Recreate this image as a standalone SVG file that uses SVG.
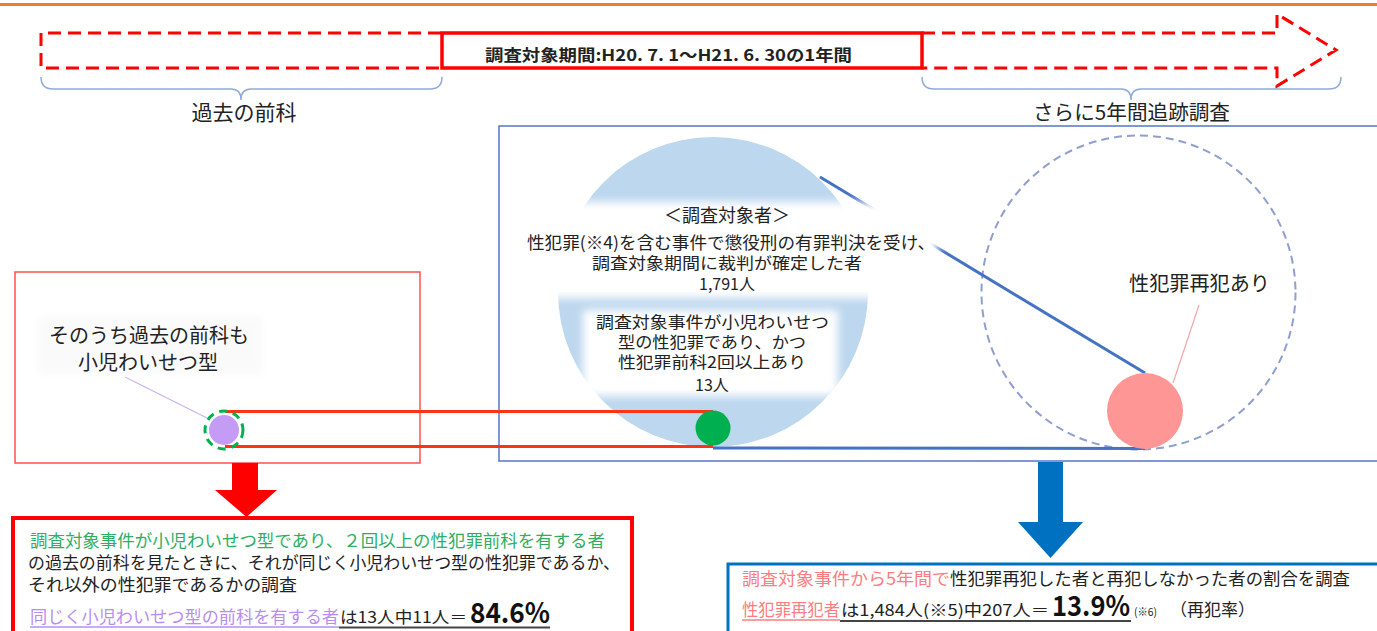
<svg xmlns="http://www.w3.org/2000/svg" width="1377" height="631" viewBox="0 0 1377 631">
<style>
text{font-family:"Noto Sans CJK JP","Noto Sans CJK SC",sans-serif;fill:#222}
.dash{fill:none;stroke:#FF0000;stroke-width:3;stroke-dasharray:13 7}
.brace{fill:none;stroke:#8FAADC;stroke-width:1.5}
.conn{fill:none;stroke-width:3}
.red{stroke:#FA3414}
.blue{stroke:#4472C4}
.t18{font-size:18px}
.t17{font-size:17px}
.t16{font-size:16px}
.t20{font-size:20px}
.big{font-size:28px;font-weight:700}
</style>
<defs>
<filter id="soft" x="-20%" y="-30%" width="140%" height="160%"><feGaussianBlur stdDeviation="4"/></filter>
</defs>
<rect width="1377" height="631" fill="#fff"/>
<line x1="0" y1="4.5" x2="1377" y2="4.5" stroke="#ED7D31" stroke-width="3"/>

<g id="timeline">
<path class="dash" d="M441 33 H41 V68 H441"/>
<path class="dash" d="M922 33 H1277 V14 L1336 50 L1277 86 V68 H922"/>
<rect x="442" y="33" width="480" height="35" fill="#fff" stroke="#FF0000" stroke-width="3.5"/>
<text x="485" y="61" font-size="16" font-weight="700" textLength="367" lengthAdjust="spacingAndGlyphs">調査対象期間:H20. 7. 1～H21. 6. 30の1年間</text>
</g>

<g id="brace-past">
<path class="brace" d="M41 77 Q41 89 53 89 H231 Q241 89 241 100 Q241 89 251 89 H430 Q442 89 442 77"/>
<text x="244" y="120" font-size="21" text-anchor="middle">過去の前科</text>
</g>
<g id="brace-future">
<path class="brace" d="M922 77 Q922 89 934 89 H1121 Q1131 89 1131 100 Q1131 89 1141 89 H1329 Q1341 89 1341 77"/>
<text x="1033" y="120" class="t20" textLength="197" lengthAdjust="spacingAndGlyphs">さらに5年間追跡調査</text>
</g>

<g id="frame-blue">
<rect x="499" y="126" width="900" height="335" fill="none" stroke="#5577C8" stroke-width="1.5"/>
</g>
<g id="frame-red">
<rect x="15" y="272" width="405" height="191" fill="none" stroke="#FF5050" stroke-width="1.5"/>
</g>

<g id="subjects">
<circle cx="713" cy="292" r="155" fill="#BDD7EE"/>
</g>

<g id="recid-circle">
<circle cx="1138.5" cy="292.5" r="157" fill="none" stroke="#8E9FD0" stroke-width="2" stroke-dasharray="8 5"/>
</g>

<g id="connectors">
<line class="conn blue" x1="820" y1="177" x2="1145" y2="373"/>
<line class="conn blue" x1="713" y1="448" x2="1145" y2="448.5"/>
<line class="conn red" x1="225" y1="411.5" x2="713" y2="411.5"/>
<line class="conn red" x1="225" y1="446.5" x2="713" y2="446.5"/>
<line x1="1199" y1="305" x2="1173" y2="383" stroke="#F4A6A6" stroke-width="1.2"/>
<line x1="125" y1="377" x2="207" y2="418" stroke="#C9B0F0" stroke-width="1.2"/>
</g>

<g id="subjects-label">
<rect x="518" y="202" width="420" height="96" fill="#fff" filter="url(#soft)"/>
<text x="727" y="222" class="t18" text-anchor="middle">＜調査対象者＞</text>
<text x="527" y="249" class="t17" textLength="408" lengthAdjust="spacingAndGlyphs">性犯罪(※4)を含む事件で懲役刑の有罪判決を受け、</text>
<text x="592" y="269" class="t16" textLength="270" lengthAdjust="spacingAndGlyphs">調査対象期間に裁判が確定した者</text>
<text x="727" y="290" class="t16" text-anchor="middle">1,791人</text>
</g>

<g id="target-label">
<rect x="583" y="310" width="255" height="86" fill="#fff" filter="url(#soft)"/>
<text x="596" y="328" class="t16" textLength="233" lengthAdjust="spacingAndGlyphs">調査対象事件が小児わいせつ</text>
<text x="618" y="348" class="t16" textLength="188" lengthAdjust="spacingAndGlyphs">型の性犯罪であり、かつ</text>
<text x="618" y="368" class="t16" textLength="188" lengthAdjust="spacingAndGlyphs">性犯罪前科2回以上あり</text>
<text x="712" y="391" class="t16" text-anchor="middle">13人</text>
</g>

<g id="green-dot">
<circle cx="713" cy="428" r="17.5" fill="#00B050"/>
</g>

<g id="recid-dot">
<circle cx="1145" cy="411" r="38" fill="#FF9696"/>
<text x="1129" y="291" class="t20" textLength="141" lengthAdjust="spacingAndGlyphs">性犯罪再犯あり</text>
</g>

<g id="same-type">
<rect x="38" y="316" width="225" height="58" fill="#FAFAFA" filter="url(#soft)"/>
<text x="149" y="343" class="t20" text-anchor="middle">そのうち過去の前科も</text>
<text x="148" y="370" class="t20" text-anchor="middle">小児わいせつ型</text>
<circle cx="224" cy="430" r="15" fill="#C59CF5"/>
<circle cx="224" cy="430" r="19" fill="none" stroke="#00B050" stroke-width="3" stroke-dasharray="8 6"/>
</g>

<g id="arrow-red">
<polygon points="232,463 258,463 258,490 277,490 246.5,517 215,490 232,490" fill="#FF0000"/>
</g>
<g id="arrow-blue">
<polygon points="1038,462 1063,462 1063,522 1083,522 1050.5,558 1018,522 1038,522" fill="#0070C0"/>
</g>

<g id="result-red">
<rect x="13" y="518" width="619" height="130" fill="#fff" stroke="#FF0000" stroke-width="4"/>
<text x="30" y="547" class="t17" style="fill:#2EAE62" textLength="575" lengthAdjust="spacingAndGlyphs">調査対象事件が小児わいせつ型であり、２回以上の性犯罪前科を有する者</text>
<text x="28" y="569" class="t17" textLength="592" lengthAdjust="spacingAndGlyphs">の過去の前科を見たときに、それが同じく小児わいせつ型の性犯罪であるか、</text>
<text x="28" y="591" class="t17" textLength="269" lengthAdjust="spacingAndGlyphs">それ以外の性犯罪であるかの調査</text>
<text x="30" y="623" class="t17" style="fill:#B98CF2" textLength="309" lengthAdjust="spacingAndGlyphs">同じく小児わいせつ型の前科を有する者</text>
<text x="340" y="623" font-size="16" textLength="127" lengthAdjust="spacingAndGlyphs">は13人中11人＝</text>
<text x="470" y="623" class="big" style="fill:#111" textLength="80" lengthAdjust="spacingAndGlyphs">84.6%</text>
<line x1="30" y1="627" x2="339" y2="627" stroke="#B98CF2" stroke-width="1.5"/>
<line x1="339" y1="627.5" x2="550" y2="627.5" stroke="#444" stroke-width="2"/>
</g>

<g id="result-blue">
<rect x="728" y="564" width="700" height="100" fill="#fff" stroke="#0070C0" stroke-width="3"/>
<text x="742" y="585" class="t17" style="fill:#FF7C80" textLength="208" lengthAdjust="spacingAndGlyphs">調査対象事件から5年間で</text>
<text x="950" y="585" class="t17" textLength="400" lengthAdjust="spacingAndGlyphs">性犯罪再犯した者と再犯しなかった者の割合を調査</text>
<text x="742" y="616" class="t17" style="fill:#FF7C80" textLength="98" lengthAdjust="spacingAndGlyphs">性犯罪再犯者</text>
<text x="841" y="616" font-size="16" textLength="208" lengthAdjust="spacingAndGlyphs">は1,484人(※5)中207人＝</text>
<text x="1052" y="616" class="big" style="fill:#111" textLength="78" lengthAdjust="spacingAndGlyphs">13.9%</text>
<text x="1134" y="616" font-size="11" textLength="23" lengthAdjust="spacingAndGlyphs">(※6)</text>
<text x="1170" y="616" class="t17" textLength="85" lengthAdjust="spacingAndGlyphs">（再犯率）</text>
<line x1="742" y1="620" x2="840" y2="620" stroke="#FF7C80" stroke-width="1.5"/>
<line x1="840" y1="621" x2="1131" y2="621" stroke="#444" stroke-width="2"/>
</g>
</svg>
